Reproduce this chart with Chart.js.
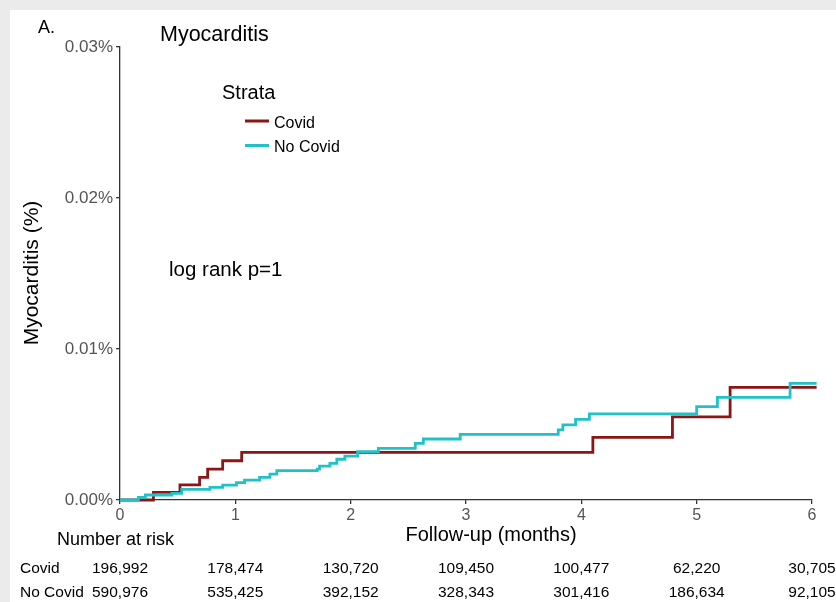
<!DOCTYPE html>
<html>
<head>
<meta charset="utf-8">
<script src="https://cdn.jsdelivr.net/npm/chart.js@4.4.1/dist/chart.umd.min.js"></script>
<style>
  html, body { margin: 0; padding: 0; background: #fff; }
  #wrap { width: 836px; height: 602px; }
</style>
</head>
<body>
<div id="wrap"><canvas id="kmChart" width="836" height="602"></canvas></div>
<script>
// Kaplan-Meier steps (months, cumulative %)
var covidTimes = [0, 0.29, 0.52, 0.69, 0.76, 0.89, 1.055, 4.10, 4.79, 5.29, 6.04];
var covidRisk  = [0, 0.0005, 0.001, 0.0015, 0.00205, 0.0026, 0.00316, 0.00415, 0.0055, 0.00746, 0.00746];

var noCovidTimes = [0, 0.16, 0.22, 0.45, 0.535, 0.78, 0.89, 1.01, 1.08, 1.21, 1.30, 1.36, 1.71, 1.73, 1.82,
                    1.88, 1.95, 2.06, 2.24, 2.56, 2.63, 2.95, 3.80, 3.84, 3.95, 4.07, 5.0, 5.18, 5.81, 6.04];
var noCovidRisk  = [0, 0.00018, 0.00033, 0.00044, 0.00071, 0.00084, 0.00099, 0.00115, 0.00132, 0.0015, 0.00172,
                    0.00194, 0.00205, 0.00225, 0.00243, 0.0027, 0.0029, 0.0032, 0.00342, 0.00375, 0.00404,
                    0.00435, 0.00464, 0.00497, 0.00534, 0.0057, 0.00618, 0.0068, 0.00773, 0.00773];

var riskMonths   = [0, 1, 2, 3, 4, 5, 6];
var covidAtRisk   = ['196,992', '178,474', '130,720', '109,450', '100,477', '62,220', '30,705'];
var noCovidAtRisk = ['590,976', '535,425', '392,152', '328,343', '301,416', '186,634', '92,105'];

var yTicks = [0, 0.01, 0.02, 0.03];

var FONT = '"Liberation Sans", Arial, sans-serif';
var COVID_COLOR = '#8b1616';
var NOCOVID_COLOR = '#20c2c7';

var toPoints = function(times, risk) {
  return times.map(function(t, i) { return {x: t, y: risk[i]}; });
};

// background, titles, legend and number-at-risk table
var decorPlugin = {
  id: 'decor',
  beforeDraw: function(chart) {
    var ctx = chart.ctx;
    ctx.save();
    ctx.fillStyle = '#ebebeb';
    ctx.fillRect(0, 0, chart.width, chart.height);
    ctx.fillStyle = '#ffffff';
    ctx.fillRect(10, 10, chart.width - 10, chart.height - 10);
    ctx.restore();
  },
  afterDraw: function(chart) {
    var ctx = chart.ctx;
    var xs = chart.scales.x;
    var sets = chart.data.datasets;
    ctx.save();
    ctx.fillStyle = '#000';
    ctx.textBaseline = 'alphabetic';
    ctx.textAlign = 'left';

    ctx.font = '18px ' + FONT;
    ctx.fillText('A.', 38, 33);
    ctx.font = '21.5px ' + FONT;
    ctx.fillText('Myocarditis', 160, 41);
    ctx.font = '20px ' + FONT;
    ctx.fillText('Strata', 222, 99);

    // legend
    ctx.font = '16px ' + FONT;
    ctx.lineWidth = 3;
    [0, 1].forEach(function(i) {
      var y = 121 + i * 24.5;
      ctx.strokeStyle = sets[i].borderColor;
      ctx.beginPath();
      ctx.moveTo(245, y);
      ctx.lineTo(269, y);
      ctx.stroke();
      ctx.fillText(sets[i].label, 274, y + 6.5);
    });

    ctx.font = '20.5px ' + FONT;
    ctx.fillText('log rank p=1', 169, 276);

    // axis titles
    ctx.font = '20px ' + FONT;
    ctx.textAlign = 'center';
    ctx.fillText('Follow-up (months)', 491, 541);
    ctx.save();
    ctx.translate(38, 273);
    ctx.rotate(-Math.PI / 2);
    ctx.font = '21px ' + FONT;
    ctx.fillText('Myocarditis (%)', 0, 0);
    ctx.restore();

    // number at risk
    ctx.font = '18px ' + FONT;
    ctx.textAlign = 'left';
    ctx.fillText('Number at risk', 57, 545);
    ctx.font = '15.5px ' + FONT;
    ctx.fillText('Covid', 20, 573);
    ctx.fillText('No Covid', 20, 597);
    ctx.textAlign = 'center';
    riskMonths.forEach(function(m, i) {
      var px = xs.getPixelForValue(m);
      ctx.fillText(covidAtRisk[i], px, 573);
      ctx.fillText(noCovidAtRisk[i], px, 597);
    });
    ctx.restore();
  }
};

var chart = new Chart(document.getElementById('kmChart').getContext('2d'), {
  type: 'line',
  data: {
    datasets: [
      {
        label: 'Covid',
        data: toPoints(covidTimes, covidRisk),
        borderColor: COVID_COLOR,
        borderWidth: 2.8,
        stepped: true,
        pointRadius: 0,
        fill: false,
        clip: false,
        order: 2
      },
      {
        label: 'No Covid',
        data: toPoints(noCovidTimes, noCovidRisk),
        borderColor: NOCOVID_COLOR,
        borderWidth: 2.8,
        stepped: true,
        pointRadius: 0,
        fill: false,
        clip: false,
        order: 1
      }
    ]
  },
  options: {
    responsive: false,
    animation: false,
    layout: { padding: { top: 47, right: 24, left: 0, bottom: 0 } },
    plugins: {
      legend: { display: false },
      tooltip: { enabled: false }
    },
    scales: {
      x: {
        type: 'linear',
        min: 0,
        max: 6,
        afterFit: function(scale) { scale.height = 102; },
        ticks: {
          stepSize: 1,
          color: '#555',
          padding: 2,
          font: { family: FONT, size: 16 }
        },
        grid: { drawOnChartArea: false, drawTicks: true, tickLength: 4, color: '#333', lineWidth: 1.3 },
        border: { display: true, color: '#333', width: 1.3 }
      },
      y: {
        type: 'linear',
        min: 0,
        max: 0.03,
        afterFit: function(scale) { scale.width = 120; },
        afterBuildTicks: function(scale) {
          scale.ticks = yTicks.map(function(v) { return {value: v}; });
        },
        ticks: {
          color: '#555',
          padding: 3,
          font: { family: FONT, size: 17 },
          callback: function(v) { return v.toFixed(2) + '%'; }
        },
        grid: { drawOnChartArea: false, drawTicks: true, tickLength: 4, color: '#333', lineWidth: 1.3 },
        border: { display: true, color: '#333', width: 1.3 }
      }
    }
  },
  plugins: [decorPlugin]
});
</script>
</body>
</html>
